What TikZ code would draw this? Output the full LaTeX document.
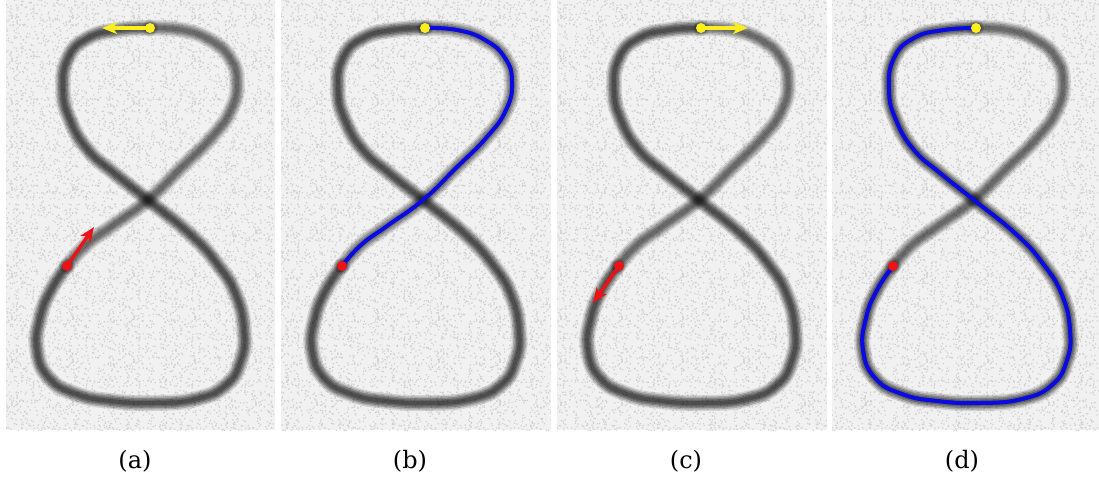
\documentclass[tikz,border=0pt]{standalone}
\usepackage{fontspec}
\newfontfamily\lblfont{DejaVu Serif}
\usetikzlibrary{arrows.meta,patterns}
\definecolor{bgc}{RGB}{241,241,241}
\definecolor{speck}{RGB}{208,208,208}
\definecolor{ylw}{RGB}{250,238,30}
\definecolor{rd}{RGB}{236,18,22}
\definecolor{bl}{RGB}{10,10,226}
\pgfmathsetseed{7}
\pgfdeclarepatternformonly{noisetileA}{\pgfpointorigin}{\pgfpoint{53pt}{47pt}}{\pgfpoint{53pt}{47pt}}{%
  \foreach \i in {1,...,90}{%
    \pgfmathsetmacro{\nx}{51.5*rnd}\pgfmathsetmacro{\ny}{45.5*rnd}%
    \pgfpathrectangle{\pgfpoint{\nx pt}{\ny pt}}{\pgfpoint{1.3pt}{1.3pt}}%
    \pgfusepath{fill}%
  }}
\pgfdeclarepatternformonly{noisetileB}{\pgfpointorigin}{\pgfpoint{61pt}{43pt}}{\pgfpoint{61pt}{43pt}}{%
  \foreach \i in {1,...,80}{%
    \pgfmathsetmacro{\nx}{59.5*rnd}\pgfmathsetmacro{\ny}{41.5*rnd}%
    \pgfpathrectangle{\pgfpoint{\nx pt}{\ny pt}}{\pgfpoint{1.3pt}{1.3pt}}%
    \pgfusepath{fill}%
  }}
\tikzset{
  panelbg/.style={fill=bgc, draw=none},
  noiseA/.style={pattern=noisetileA, pattern color=speck},
  noiseB/.style={pattern=noisetileB, pattern color=speck},
  dotnode/.style={circle, inner sep=0pt, minimum size=10pt, draw=none},
  ydot/.style={dotnode, fill=ylw},
  rdot/.style={dotnode, fill=rd},
  arrowline/.style={line width=3.4pt, -{Stealth[length=15pt,width=12pt,inset=4pt]}},
  yarrow/.style={arrowline, draw=ylw, fill=ylw},
  rarrow/.style={arrowline, draw=rd, fill=rd},
  blueline/.style={draw=bl, line width=4pt, line cap=round, line join=round},
  ink/.style 2 args={draw=black, line width=#1, line cap=round, line join=round, draw opacity=#2},
  lbl/.style={anchor=base, inner sep=0pt, font=\lblfont\fontsize{24}{26}\selectfont},
  segone/.pic={
    \draw[#1] plot[smooth, tension=0.8] coordinates {(144,28) (176,30) (204,40) (224,58) (231,82) (225,110) (205,138) (175,168) (142,200) (106,226) (80,245) (61,266)};
  },
  segtwo/.pic={
    \draw[#1] plot[smooth, tension=0.8] coordinates {(61,266) (45,290) (34,318) (31,350) (43,378) (70,394) (105,401) (148,403) (190,399) (220,385) (235,360) (238,330) (230,295) (212,265) (185,235) (142,200) (108,173) (82,150) (64,120) (57,90) (62,58) (82,38) (112,30) (144,28)};
  },
  figeight/.pic={
    \pic {segone={ink={16pt}{0.10}}};
    \pic {segone={ink={13pt}{0.15}}};
    \pic {segone={ink={10pt}{0.17}}};
    \pic {segone={ink={7pt}{0.18}}};
    \pic {segone={ink={4pt}{0.15}}};
    \pic {segtwo={ink={16pt}{0.12}}};
    \pic {segtwo={ink={13pt}{0.19}}};
    \pic {segtwo={ink={10pt}{0.22}}};
    \pic {segtwo={ink={7pt}{0.24}}};
    \pic {segtwo={ink={4pt}{0.22}}};
  }
}
\begin{document}
\begin{tikzpicture}[x=1pt,y=-1pt]
\useasboundingbox (0,0) rectangle (1099,482);
\fill[white] (0,0) rectangle (1099,482);
% panels
\foreach \xa/\xb in {6/275, 281/551, 557/827, 832/1099} {
  \fill[panelbg] (\xa,0) rectangle (\xb,430);
  \fill[noiseA] (\xa,0) rectangle (\xb,430);
  \fill[noiseB] (\xa,0) rectangle (\xb,430);
}
\pic at (6,0) {figeight};
\pic at (281,0) {figeight};
\pic at (557,0) {figeight};
\pic at (832,0) {figeight};
% panel (a)
\node[ydot] (ya) at (150,28) {};
\coordinate (yat) at (102,28);
\draw[yarrow] (ya.center) -- (yat);
\node[rdot] (ra) at (67,266) {};
\coordinate (rat) at (94,227);
\draw[rarrow] (ra.center) -- (rat);
% panel (b)
\pic at (281,0) {segone={blueline}};
\node[ydot] (yb) at (425,28) {};
\node[rdot] (rb) at (342,266) {};
% panel (c)
\node[ydot] (yc) at (701,28) {};
\coordinate (yct) at (748,28);
\draw[yarrow] (yc.center) -- (yct);
\node[rdot] (rc) at (619,266) {};
\coordinate (rct) at (593,303);
\draw[rarrow] (rc.center) -- (rct);
% panel (d)
\pic at (832,0) {segtwo={blueline}};
\node[ydot] (yd) at (976,28) {};
\node[rdot] (rd) at (893,266) {};
% labels
\node[lbl] (la) at (135,468) {(a)};
\node[lbl] (lb) at (410,468) {(b)};
\node[lbl] (lc) at (686,468) {(c)};
\node[lbl] (ld) at (962,468) {(d)};
\end{tikzpicture}
\end{document}
